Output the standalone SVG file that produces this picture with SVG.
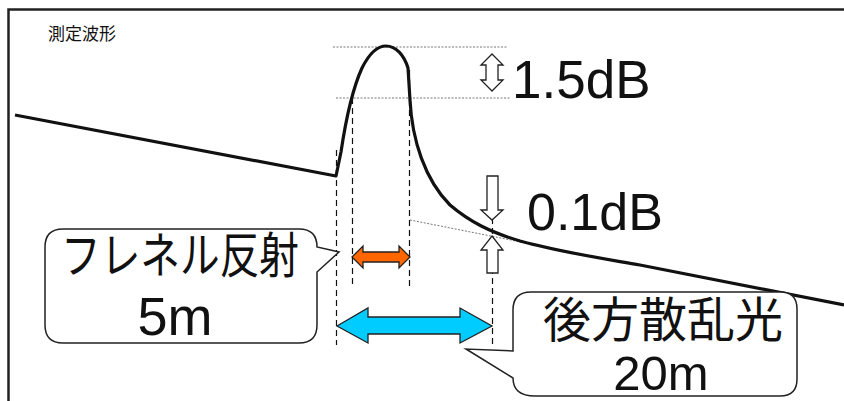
<svg xmlns="http://www.w3.org/2000/svg" width="844" height="401" viewBox="0 0 844 401">
<defs>
<style>
.frame{fill:none;stroke:#222;stroke-width:2.5}
.curve{fill:none;stroke:#111;stroke-width:3.2;stroke-linejoin:round}
.dot{fill:none;stroke:#777;stroke-width:1;stroke-dasharray:2,1.5}
.dash{fill:none;stroke:#111;stroke-width:1.2;stroke-dasharray:6,4}
.hollow{fill:#fff;stroke:#222;stroke-width:1.3}
.bubble{fill:#fff;stroke:#222;stroke-width:1.5}
.jp{font-family:"Noto Sans CJK JP","Noto Sans",sans-serif;fill:#111}
.num{font-family:"Liberation Sans",Arial,sans-serif;fill:#111}
</style>
</defs>
<path class="frame" d="M8.5,401 L8.5,9.5 L844,9.5"/>
<text class="jp" x="48" y="40" font-size="17">測定波形</text>
<g id="guides">
<line class="dot" x1="333" y1="47" x2="508" y2="47"/>
<line class="dot" x1="336" y1="98" x2="511" y2="98"/>
<line class="dot" x1="410" y1="220" x2="632" y2="264"/>
<line class="dash" x1="336.5" y1="150" x2="336.5" y2="345"/>
<line class="dash" x1="352.5" y1="98" x2="352.5" y2="284"/>
<line class="dash" x1="409.5" y1="70" x2="409.5" y2="290"/>
<line class="dash" x1="492.5" y1="218" x2="492.5" y2="345"/>
</g>
<g id="waveform">
<path class="curve" d="M15,115 L336,176 L341,152 C345,125 352,90 362,68 C370,52 378,46 386,46 C396,46 404,55 408,68 L410,100 C412,140 425,180 450,205 C470,222 490,232 520,241 C560,252 600,258 640,265 L844,305"/>
</g>
<g id="arrow-15db">
<path class="hollow" d="M492,54 L503,65 L498,65 L498,80 L503,80 L492,91 L481,80 L486,80 L486,65 L481,65 Z"/>
<text class="num" x="512" y="98" font-size="53">1.5dB</text>
</g>
<g id="arrow-01db">
<path class="hollow" d="M487,176 L498,176 L498,210 L503,210 L492,220 L481,210 L487,210 Z"/>
<path class="hollow" d="M492,236 L503,250 L498,250 L498,273 L487,273 L487,250 L481,250 Z"/>
<text class="num" x="527" y="230" font-size="52">0.1dB</text>
</g>
<g id="arrow-fresnel">
<path d="M352,257 L363,246 L363,252 L399,252 L399,246 L410,257 L399,268 L399,262 L363,262 L363,268 Z" fill="#ff6600" stroke="#222" stroke-width="1.3"/>
</g>
<g id="arrow-backscatter">
<path d="M337,326 L368,308 L368,317 L460,317 L460,308 L492,326 L460,343 L460,334 L368,334 L368,343 Z" fill="#00ccff" stroke="#222" stroke-width="1.3"/>
</g>
<g id="callout-fresnel">
<path class="bubble" d="M63,229 L299,229 Q317,229 317,247 L339,252 L317,272 L317,325 Q317,343 299,343 L63,343 Q45,343 45,325 L45,247 Q45,229 63,229 Z"/>
<text class="jp" x="180" y="273" font-size="49" text-anchor="middle" textLength="238" lengthAdjust="spacingAndGlyphs">フレネル反射</text>
<text class="num" x="175" y="335" font-size="54" text-anchor="middle">5m</text>
</g>
<g id="callout-backscatter">
<path class="bubble" d="M531,292 L780,292 Q797,292 797,309 L797,379 Q797,396 780,396 L535,396 Q513,396 513,378 L466,349 L513,351 L513,310 Q513,292 531,292 Z"/>
<text class="jp" x="663" y="337" font-size="48" text-anchor="middle">後方散乱光</text>
<text class="num" x="661" y="390" font-size="49" text-anchor="middle">20m</text>
</g>
</svg>
